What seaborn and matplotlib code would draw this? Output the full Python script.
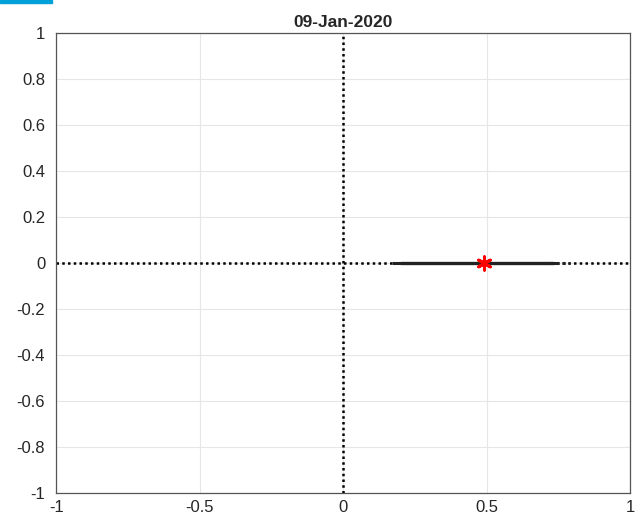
import matplotlib
matplotlib.use("Agg")
import matplotlib.pyplot as plt
import seaborn as sns
import pandas as pd
import numpy as np

title = "09-Jan-2020"
x_ticks = [-1, -0.5, 0, 0.5, 1]
x_tick_labels = ["-1", "-0.5", "0", "0.5", "1"]
y_ticks = [-1, -0.8, -0.6, -0.4, -0.2, 0, 0.2, 0.4, 0.6, 0.8, 1]
y_tick_labels = ["-1", "-0.8", "-0.6", "-0.4", "-0.2", "0", "0.2", "0.4", "0.6", "0.8", "1"]

# reference axes (dotted)
h_axis_x = [-1, 1]
h_axis_y = [0, 0]
v_axis_x = [0, 0]
v_axis_y = [-1, 1]
# locus along real axis
dashdot_left_x = [0.17, 0.21]
dashdot_right_x = [0.72, 0.79]
solid_x = [0.2, 0.73]
locus_y = [0, 0]
# marker
star_x = [0.49]
star_y = [0.0]

sns.set_theme(style="white")
plt.rcParams['font.family'] = ['Liberation Sans', 'DejaVu Sans']

fig = plt.figure(figsize=(6.4, 5.22), dpi=100)
ax = fig.add_axes([0.088, 0.056, 0.897, 0.881])

dot = (0, (1, 1.3))
sns.lineplot(x=h_axis_x, y=h_axis_y, ax=ax, color="black", linestyle=dot, linewidth=1.8,
             estimator=None, sort=False)
sns.lineplot(x=v_axis_x, y=v_axis_y, ax=ax, color="black", linestyle=dot, linewidth=1.8,
             estimator=None, sort=False)
sns.lineplot(x=dashdot_left_x, y=locus_y, ax=ax, color="#222222", linestyle=(0, (3, 1, 1, 1)), linewidth=2.2,
             estimator=None)
sns.lineplot(x=dashdot_right_x, y=locus_y, ax=ax, color="#222222", linestyle=(0, (3, 1, 1, 1)), linewidth=2.2,
             estimator=None)
sns.lineplot(x=solid_x, y=locus_y, ax=ax, color="#222222", linewidth=2.4, estimator=None)
sns.scatterplot(x=star_x, y=star_y, ax=ax, color="red", marker=(6, 2, 0), s=90, linewidth=2.2,
                edgecolor="red", zorder=5)

ax.set_xlim(-1, 1)
ax.set_ylim(-1, 1)
ax.set_xticks(x_ticks)
ax.set_xticklabels(x_tick_labels)
ax.set_yticks(y_ticks)
ax.set_yticklabels(y_tick_labels)
ax.grid(True, color="#e6e6e6", linewidth=0.8)
ax.set_axisbelow(True)
for s in ax.spines.values():
    s.set_color("#555555")
    s.set_linewidth(0.9)
ax.tick_params(axis="both", labelsize=12, colors="#262626", length=0)
ax.tick_params(axis="x", pad=5)
ax.tick_params(axis="y", pad=8)
ax.set_title(title, fontsize=12.5, fontweight="bold", color="#262626", pad=4)

fig.patches.append(plt.Rectangle((0, 0.994), 0.082, 0.006, transform=fig.transFigure, color="#00a0d8"))

fig.savefig("out.png", dpi=100)
